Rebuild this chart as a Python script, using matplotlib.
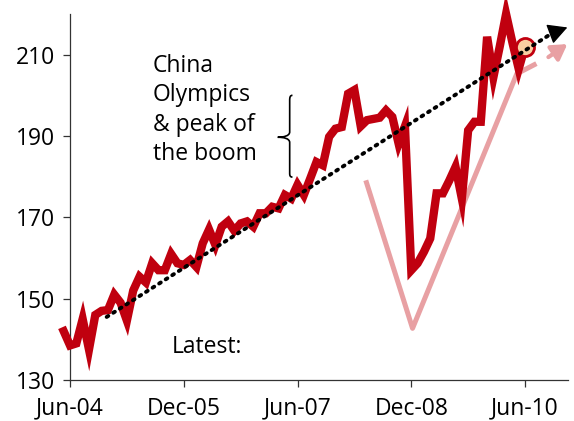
import numpy as np
import matplotlib.pyplot as plt
from matplotlib.path import Path
from matplotlib.patches import PathPatch

plt.rcParams['font.family'] = ['Open Sans', 'DejaVu Sans']

# monthly index: 0 = Jun-04, series starts May-04
months = np.arange(-1, 73)
values = [142, 138.5, 139, 145, 137.5, 146, 147, 147.2, 151, 149,
          144.6, 152, 155.4, 154, 158.7, 157, 157, 161, 158.7, 158.3,
          159.5, 157.8, 163.6, 167, 163.2, 167.7, 169, 166.7, 168.5, 169,
          167.7, 171, 171, 172.6, 172.2, 175.5, 174.6, 178, 175.5, 179.5,
          183.6, 182.8, 189.8, 191.8, 192.2, 200.4, 201.3, 192.4, 193.9, 194.2,
          194.5, 196.3, 194.7, 188.1, 192.4, 157, 158.7, 161.5, 164.8, 175.9,
          175.9, 179, 182.4, 174.6, 191.4, 193.5, 193.5, 214.4, 204.5, 212,
          220, 213, 206.5, 212]

tick_pos = [0, 18, 36, 54, 72]
tick_labels = ["Jun-04", "Dec-05", "Jun-07", "Dec-08", "Jun-10"]

# trend line (dotted black arrow)
trend_x = [5.8, 76.3]
trend_y = [145.5, 215.3]
trend_tip = (78.7, 216.7)

# recovery "V" (pink)
v_x = [46.8, 54.2, 70.7, 73.8]
v_y = [179.1, 142.7, 205.3, 207.8]
v_arrow_from = (75.7, 209.4)
v_arrow_to = (78.7, 212.6)

red = '#c0000f'
pink = '#e8a0a3'

fig = plt.figure(figsize=(5.74, 4.21), dpi=100)
ax = fig.add_axes([61.8 / 574, 41 / 421, (568 - 61.8) / 574, 366 / 421])

ax.plot(v_x, v_y, color=pink, lw=3.6, solid_capstyle='butt', zorder=2)
ax.annotate('', xy=v_arrow_to, xytext=v_arrow_from,
            arrowprops=dict(arrowstyle='-|>,head_length=0.5,head_width=0.3',
                            color=pink, lw=3, mutation_scale=18,
                            shrinkA=0, shrinkB=0), zorder=2)

ax.plot(months, values, color=red, lw=6, solid_joinstyle='miter',
        clip_on=False, zorder=3)
ax.plot(months[-1], values[-1], 'o', ms=13, mfc='#f9cfa3', mec=red,
        mew=2, zorder=4, clip_on=False)

ax.plot(trend_x, trend_y, color='black', lw=2.8, ls=(0, (0.5, 1.5)),
        dash_capstyle='round', zorder=5, clip_on=False)
ax.annotate('', xy=trend_tip, xytext=(trend_x[1], trend_y[1]),
            arrowprops=dict(arrowstyle='-|>,head_length=0.6,head_width=0.32',
                            color='black', lw=1, mutation_scale=20,
                            shrinkA=0, shrinkB=0), zorder=5, annotation_clip=False)

# brace
verts = [(35.2, 200.0), (34.85, 200.0), (34.76, 199.6), (34.76, 198.8),
         (34.76, 191.0),
         (34.76, 190.0), (33.8, 189.7), (32.87, 189.7),
         (33.8, 189.7), (34.76, 189.4), (34.76, 188.4),
         (34.76, 180.8),
         (34.76, 180.2), (34.85, 179.9), (35.2, 179.9)]
codes = [Path.MOVETO, Path.CURVE4, Path.CURVE4, Path.CURVE4,
         Path.LINETO,
         Path.CURVE4, Path.CURVE4, Path.CURVE4,
         Path.CURVE4, Path.CURVE4, Path.CURVE4,
         Path.LINETO,
         Path.CURVE4, Path.CURVE4, Path.CURVE4]
ax.add_patch(PathPatch(Path(verts, codes), fill=False, lw=1.2, color='black'))

ax.text(13.1, 210.2, "China\nOlympics\n& peak of\nthe boom", fontsize=16.5,
        va='top', ha='left', linespacing=1.3)
ax.text(16.1, 138.0, "Latest:", fontsize=16.5, va='center', ha='left')

ax.set_xlim(-1.3, 78.8)
ax.set_ylim(130, 220)
ax.set_yticks([130, 150, 170, 190, 210])
ax.set_xticks(tick_pos)
ax.set_xticklabels(tick_labels)
ax.spines['top'].set_visible(False)
ax.spines['right'].set_visible(False)
ax.spines['left'].set_position(('data', 0))
ax.spines['bottom'].set_bounds(0, 78.8)
for s in ['left', 'bottom']:
    ax.spines[s].set_color('#333333')
    ax.spines[s].set_linewidth(0.9)
ax.tick_params(axis='both', labelsize=16.5, length=5, width=0.9, color='#333333')
ax.tick_params(axis='y', pad=6)
ax.tick_params(axis='x', pad=7)

fig.savefig('out.png', dpi=100)
